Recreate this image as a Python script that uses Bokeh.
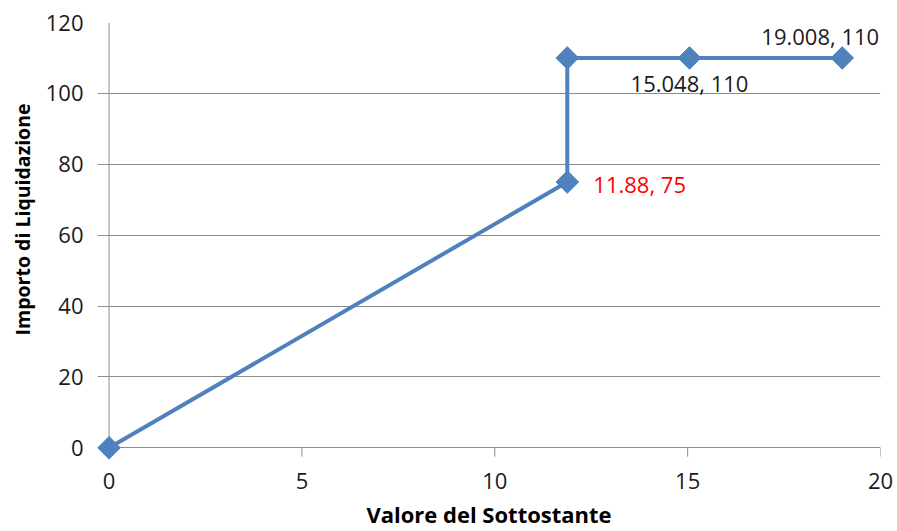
import numpy as np
from bokeh.plotting import figure
from bokeh.models import Range1d, Span, Label, Title
from bokeh.embed import file_html
from bokeh.resources import INLINE

x_vals = [0, 11.88, 11.88, 15.048, 19.008]
y_vals = [0, 75, 110, 110, 110]
point_labels = ["", "11.88, 75", "", "15.048, 110", "19.008, 110"]
x_ticks = [0, 5, 10, 15, 20]
y_ticks = [0, 20, 40, 60, 80, 100, 120]
x_title = "Valore del Sottostante"
y_title = "Importo di Liquidazione"

BLUE = "#4F81BD"
GRID = "#8c8c8c"
FONT = "Open Sans"

p = figure(width=897, height=531, output_backend="svg", toolbar_location=None,
           x_range=Range1d(-0.3, 20), y_range=Range1d(-3.3, 120),
           min_border_left=97, min_border_right=17, min_border_top=22,
           min_border_bottom=72)
p.outline_line_color = None
p.background_fill_color = "white"

p.xgrid.visible = False
p.ygrid.grid_line_color = GRID
p.ygrid.grid_line_width = 1

p.xaxis.ticker = x_ticks
p.yaxis.ticker = y_ticks
for ax in (p.xaxis, p.yaxis):
    ax.axis_line_color = None
    ax.minor_tick_line_color = None
    ax.major_tick_line_color = None
    ax.major_tick_in = 0
    ax.major_tick_out = 0
    ax.major_label_text_font = FONT
    ax.major_label_text_font_size = "22px"
    ax.major_label_text_color = "#1a1a1a"
    ax.axis_label_text_font = FONT
    ax.axis_label_text_font_size = "22px"
    ax.axis_label_text_font_style = "bold"
    ax.axis_label_text_color = "#000000"

p.xaxis.major_label_standoff = 13
p.xaxis.axis_label = x_title
p.xaxis.axis_label_standoff = 7

p.yaxis.major_label_standoff = 14

p.add_layout(Title(text=y_title, align="right", offset=81,
                   text_font=FONT, text_font_size="19.5px",
                   text_font_style="bold", text_color="#000000",
                   standoff=13), "left")

# vertical axis line at x = 0 and the small tick marks below the x axis
p.add_layout(Span(location=0, dimension="height", line_color=GRID,
                  line_width=1, level="underlay"))
p.segment(x0=x_ticks, y0=[0] * len(x_ticks), x1=x_ticks,
          y1=[-2.5] * len(x_ticks), line_color=GRID, line_width=1,
          level="underlay")

p.line(x_vals, y_vals, line_width=4, color=BLUE)
p.scatter(x_vals, y_vals, marker="square", size=16, angle=np.pi / 4,
          color=BLUE)

p.add_layout(Label(x=x_vals[4], y=y_vals[4], text=point_labels[4],
                   x_offset=-22, y_offset=22, text_align="center",
                   text_baseline="middle", text_font=FONT,
                   text_font_size="22px", text_color="#1a1a1a"))
p.add_layout(Label(x=x_vals[3], y=y_vals[3], text=point_labels[3],
                   x_offset=0, y_offset=-25, text_align="center",
                   text_baseline="middle", text_font=FONT,
                   text_font_size="22px", text_color="#1a1a1a"))
p.add_layout(Label(x=x_vals[1], y=y_vals[1], text=point_labels[1],
                   x_offset=26, y_offset=-2, text_align="left",
                   text_baseline="middle", text_font=FONT,
                   text_font_size="22px", text_color="#FF0000"))

open("out.html", "w").write(file_html(p, INLINE))
